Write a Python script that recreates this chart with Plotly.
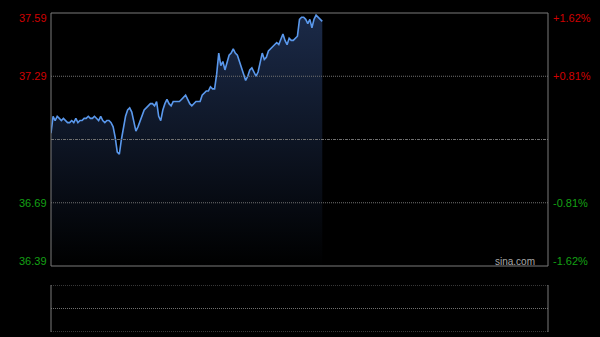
import plotly.graph_objects as go

# ---- data ----
prev_close = 36.99
y_ticks_left = [37.59, 37.29, 36.69, 36.39]
y_labels_left = ["37.59", "37.29", "36.69", "36.39"]
y_labels_right = ["+1.62%", "+0.81%", "-0.81%", "-1.62%"]
minutes_total = 240
prices = [
    37.02, 37.10, 37.08, 37.10, 37.09, 37.08, 37.09, 37.08, 37.07, 37.07,
    37.08, 37.07, 37.09, 37.07, 37.08, 37.08, 37.09, 37.09, 37.10, 37.09,
    37.09, 37.10, 37.09, 37.08, 37.10, 37.08, 37.07, 37.08, 37.08, 37.07,
    37.05, 37.00, 36.93, 36.92, 36.99, 37.05, 37.10, 37.13, 37.14, 37.12,
    37.08, 37.03, 37.05, 37.08, 37.10, 37.13, 37.14, 37.15, 37.16, 37.16,
    37.15, 37.17, 37.10, 37.08, 37.13, 37.16, 37.18, 37.16, 37.15, 37.17,
    37.17, 37.17, 37.17, 37.18, 37.19, 37.20, 37.18, 37.16, 37.15, 37.16,
    37.17, 37.17, 37.17, 37.20, 37.21, 37.22, 37.22, 37.24, 37.23, 37.23,
    37.30, 37.40, 37.34, 37.36, 37.32, 37.36, 37.39, 37.40, 37.42, 37.40,
    37.39, 37.36, 37.33, 37.31, 37.27, 37.29, 37.32, 37.33, 37.31, 37.29,
    37.31, 37.36, 37.40, 37.37, 37.38, 37.41, 37.42, 37.43, 37.44, 37.45,
    37.44, 37.47, 37.49, 37.46, 37.44, 37.47, 37.46, 37.46, 37.47, 37.48,
    37.56, 37.57, 37.57, 37.56, 37.54, 37.56, 37.52, 37.56, 37.58, 37.57,
    37.56, 37.55,
]
minutes = list(range(len(prices)))

RED = "#d00000"
GREEN = "#14a014"
GRID = "#707070"
BORDER = "#7a7a7a"
FONT = "Liberation Sans, Arial, sans-serif"

fig = go.Figure()
fig.add_trace(go.Scatter(
    x=minutes, y=prices, mode="lines",
    line=dict(color="#5a98ec", width=1.6),
    fill="tozeroy",
    fillgradient=dict(type="vertical", start=y_ticks_left[-1], stop=max(prices),
                      colorscale=[[0, "#000000"], [1, "#1b2a48"]]),
    hoverinfo="skip", showlegend=False,
))
# invisible trace for the volume panel axes
fig.add_trace(go.Scatter(x=[0], y=[0], mode="markers", marker=dict(opacity=0),
                         xaxis="x2", yaxis="y2", showlegend=False, hoverinfo="skip"))

main_bottom = (332 - 266) / 319
vol_top = (332 - 285) / 319

fig.update_layout(
    width=600, height=337,
    margin=dict(l=51, r=52, t=13, b=5),
    paper_bgcolor="#000000", plot_bgcolor="#000000",
    xaxis=dict(range=[0, minutes_total], visible=False, domain=[0, 1]),
    yaxis=dict(range=[y_ticks_left[-1], y_ticks_left[0]], visible=False,
               domain=[main_bottom, 1]),
    xaxis2=dict(range=[0, minutes_total], visible=False, anchor="y2", domain=[0, 1]),
    yaxis2=dict(range=[0, 1], visible=False, domain=[0, vol_top], anchor="x2"),
)

shapes = []
# main panel gridlines
for v in (y_ticks_left[1], y_ticks_left[2]):
    shapes.append(dict(type="line", xref="paper", x0=0, x1=1, yref="y", y0=v, y1=v,
                       line=dict(color=GRID, width=1, dash="1px,1px")))
shapes.append(dict(type="line", xref="paper", x0=0, x1=1, yref="y", y0=prev_close, y1=prev_close,
                   line=dict(color=GRID, width=1, dash="3px,1px,1px,1px")))
# main border
shapes.append(dict(type="rect", xref="paper", x0=0, x1=1, yref="paper", y0=main_bottom, y1=1,
                   line=dict(color=BORDER, width=1)))
# volume panel
for yy in (0, 0.5, 1):
    shapes.append(dict(type="line", xref="paper", x0=0, x1=1, yref="y2", y0=yy, y1=yy,
                       line=dict(color=GRID, width=1, dash="1px,1px")))
for xx in (0, 1):
    shapes.append(dict(type="line", xref="paper", x0=xx, x1=xx, yref="y2", y0=0, y1=1,
                       line=dict(color=BORDER, width=1)))
fig.update_layout(shapes=shapes)

anns = []
anchors = ["top", "middle", "middle", "bottom"]
shifts = [3, 0, 0, -3]
for v, tl, tr, ya, ys in zip(y_ticks_left, y_labels_left, y_labels_right, anchors, shifts):
    col = RED if v > prev_close else GREEN
    anns.append(dict(x=0, xref="paper", y=v, yref="y", text=tl, showarrow=False,
                     xanchor="right", yanchor=ya, xshift=-2, yshift=ys,
                     font=dict(family=FONT, size=11, color=col)))
    anns.append(dict(x=1, xref="paper", y=v, yref="y", text=tr, showarrow=False,
                     xanchor="left", yanchor=ya, xshift=3, yshift=ys,
                     font=dict(family=FONT, size=11, color=col)))
anns.append(dict(x=(537 - 51) / 497, xref="paper", y=y_ticks_left[-1], yref="y", text="sina.com",
                 showarrow=False, xanchor="right", yanchor="bottom", yshift=-3,
                 font=dict(family=FONT, size=10, color="#a8a8a8")))
fig.update_layout(annotations=anns)

fig.write_html("out.html")
